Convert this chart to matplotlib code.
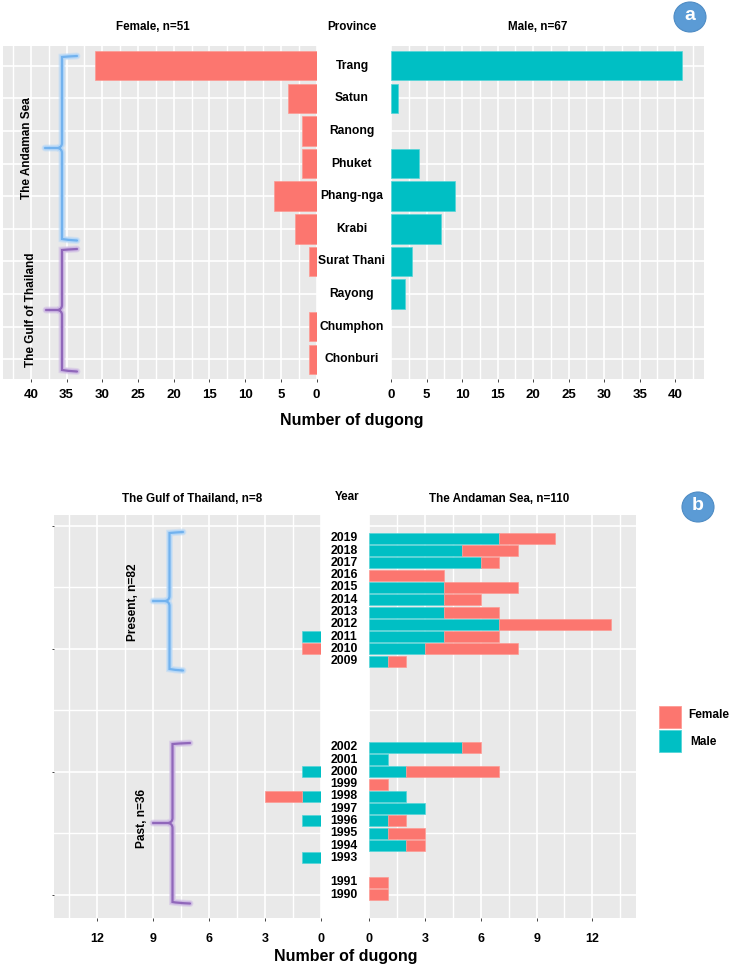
import matplotlib
matplotlib.use("Agg")
import matplotlib.pyplot as plt
from matplotlib.patches import Ellipse, PathPatch, Rectangle
from matplotlib.path import Path
from matplotlib.ticker import MultipleLocator

plt.rcParams['font.family'] = ['Liberation Sans', 'DejaVu Sans']
plt.rcParams['font.weight'] = 'bold'

W = 732
H = 968
RED = '#FC766F'
TEAL = '#00BFC4'
RED_EDGE = '#FD9A94'
TEAL_EDGE = '#55D5D8'
PANEL = '#E9E9E9'
BLUE_IN = '#72B2EE'
BLUE_OUT = '#B5D7F7'
PURPLE_IN = '#9067BA'
PURPLE_OUT = '#CDB9E3'

# panel a
provinces = ['Trang', 'Satun', 'Ranong', 'Phuket', 'Phang-nga', 'Krabi',
             'Surat Thani', 'Rayong', 'Chumphon', 'Chonburi']
female_province = [31, 4, 2, 2, 6, 3, 1, 0, 1, 1]
male_province = [41, 1, 0, 4, 9, 7, 3, 2, 0, 0]

# panel b
years = [2019, 2018, 2017, 2016, 2015, 2014, 2013, 2012, 2011, 2010, 2009,
         2002, 2001, 2000, 1999, 1998, 1997, 1996, 1995, 1994, 1993, 1991, 1990]
andaman_male = [7, 5, 6, 0, 4, 4, 4, 7, 4, 3, 1,
                5, 1, 2, 0, 2, 3, 1, 1, 2, 0, 0, 0]
andaman_female = [3, 3, 1, 4, 4, 2, 3, 6, 3, 5, 1,
                  1, 0, 5, 1, 0, 0, 1, 2, 1, 0, 1, 1]
gulf_male = [0, 0, 0, 0, 0, 0, 0, 0, 1, 0, 0,
             0, 0, 1, 0, 1, 0, 1, 0, 0, 1, 0, 0]
gulf_female = [0, 0, 0, 0, 0, 0, 0, 0, 0, 1, 0,
               0, 0, 0, 0, 2, 0, 0, 0, 0, 0, 0, 0]

fig = plt.figure(figsize=(W / 100, H / 100), dpi=100)


def make_axes(x0, x1, y0, y1):
    # pixel box, y measured from the top of the picture
    ax = fig.add_axes([x0 / W, 1 - y1 / H, (x1 - x0) / W, (y1 - y0) / H])
    ax.set_facecolor(PANEL)
    for s in ax.spines.values():
        s.set_visible(False)
    ax.set_axisbelow(True)
    ax.grid(which='major', color='white', lw=1.2)
    ax.grid(which='minor', color='white', lw=1.0)
    ax.tick_params(which='minor', length=0)
    ax.tick_params(axis='x', which='major', length=2.5, width=0.7, color='#444444',
                   labelsize=9.5, pad=5)
    return ax


def bars(ax, pos, vals, color, edge, left=None):
    # zero counts are left out, their edge would show as a thin line
    if left is None:
        left = [0] * len(vals)
    for p, v, l in zip(pos, vals, left):
        if v > 0:
            ax.barh(p, v, left=l, height=0.9, color=color, edgecolor=edge, lw=0.5)


def label(x, y, s, **kw):
    kw.setdefault('ha', 'center')
    kw.setdefault('va', 'center')
    fig.text(x / W, 1 - y / H, s, **kw)


# overlay for the hand drawn braces and badges, in picture pixels
top = fig.add_axes([0, 0, 1, 1], zorder=5)
top.set_xlim(0, W)
top.set_ylim(H, 0)
top.axis('off')


def brace(x, y0, y1, ymid, xtip, xend, inner, outer):
    c = 5
    verts = [(xend, y0), (x + c, y0 + 0.5), (x, y0 + 1), (x, y0 + c),
             (x, ymid - c), (x, ymid - 1), (x - 4, ymid), (xtip, ymid),
             (x - 4, ymid), (x, ymid + 1), (x, ymid + c),
             (x, y1 - c), (x, y1 - 1), (x + c, y1), (xend, y1 + 0.5)]
    codes = [Path.MOVETO, Path.CURVE3, Path.CURVE3, Path.LINETO,
             Path.LINETO, Path.CURVE3, Path.CURVE3, Path.LINETO,
             Path.MOVETO, Path.CURVE3, Path.CURVE3, Path.LINETO,
             Path.LINETO, Path.CURVE3, Path.CURVE3]
    p = Path(verts, codes)
    top.add_patch(PathPatch(p, fc='none', ec=outer, lw=5, alpha=0.45, capstyle='round'))
    top.add_patch(PathPatch(p, fc='none', ec=outer, lw=3.4, capstyle='round'))
    top.add_patch(PathPatch(p, fc='none', ec=inner, lw=1.6, capstyle='round'))


def badge(x, y, s):
    top.add_patch(Ellipse((x, y), 32, 30, fc='#5B9BD5', ec='#4F8CC4', lw=0.8))
    top.text(x, y - 1, s, color='white', fontsize=14, ha='center', va='center')


# panel a
y_a = list(range(len(provinces)))
ax1 = make_axes(3, 316.5, 46, 379)
bars(ax1, y_a, female_province, RED, RED_EDGE)
ax1.set_xlim(43.9, 0)
ax2 = make_axes(391, 704, 46, 379)
bars(ax2, y_a, male_province, TEAL, TEAL_EDGE)
ax2.set_xlim(0, 44.05)
for ax in (ax1, ax2):
    ax.set_ylim(9.6, -0.6)
    ax.set_yticks(y_a)
    ax.set_yticklabels([])
    ax.tick_params(axis='y', length=0)
    ax.xaxis.set_major_locator(MultipleLocator(5))
    ax.xaxis.set_minor_locator(MultipleLocator(2.5))
for name, y in zip(provinces, y_a):
    ax1.annotate(name, (0, y), xycoords=('axes fraction', 'data'), xytext=(352 / W, 0),
                 textcoords=('figure fraction', 'offset points'),
                 ha='center', va='center', fontsize=8.7)

label(153, 26.5, 'Female, n=51', fontsize=8.4)
label(352, 26.5, 'Province', fontsize=8.4)
label(538, 26.5, 'Male, n=67', fontsize=8.4)
label(352, 420, 'Number of dugong', fontsize=11.5)
label(27, 148, 'The Andaman Sea', rotation=90, fontsize=8.5)
label(31, 310, 'The Gulf of Thailand', rotation=90, fontsize=8.5)
brace(62, 56, 240, 148, 45, 77, BLUE_IN, BLUE_OUT)
brace(62, 249, 371, 310, 46, 77, PURPLE_IN, PURPLE_OUT)
badge(690, 17, 'a')

# panel b
ax3 = make_axes(54, 321, 515, 918)
bars(ax3, years, gulf_male, TEAL, TEAL_EDGE)
bars(ax3, years, gulf_female, RED, RED_EDGE, left=gulf_male)
ax3.set_xlim(14.3, 0)
ax4 = make_axes(369.3, 636, 515, 918)
bars(ax4, years, andaman_male, TEAL, TEAL_EDGE)
bars(ax4, years, andaman_female, RED, RED_EDGE, left=andaman_male)
ax4.set_xlim(0, 14.35)
for ax in (ax3, ax4):
    ax.set_ylim(1988.1, 2020.9)
    ax.yaxis.set_major_locator(MultipleLocator(10))
    ax.yaxis.set_minor_locator(MultipleLocator(5))
    ax.set_yticklabels([])
    ax.xaxis.set_major_locator(MultipleLocator(3))
    ax.xaxis.set_minor_locator(MultipleLocator(1.5))
    ax.tick_params(axis='x', labelsize=9, pad=8.5)
ax3.tick_params(axis='y', which='major', length=1.2, width=0.7, color='#444444')
ax4.tick_params(axis='y', length=0)
for yr in years:
    ax3.annotate(str(yr), (0, yr), xycoords=('axes fraction', 'data'), xytext=(344 / W, 0),
                 textcoords=('figure fraction', 'offset points'),
                 ha='center', va='center', fontsize=8.8)

label(192, 498.5, 'The Gulf of Thailand, n=8', fontsize=8.4)
label(347, 497.5, 'Year', fontsize=8.4)
label(499, 498.5, 'The Andaman Sea, n=110', fontsize=8.4)
label(346, 957, 'Number of dugong', fontsize=11.5)
label(133, 602, 'Present, n=82', rotation=90, fontsize=8.6)
label(142, 818, 'Past, n=36', rotation=90, fontsize=8.6)
brace(169.5, 532, 670, 601, 153, 183, BLUE_IN, BLUE_OUT)
brace(172.5, 743, 903, 823, 153, 190, PURPLE_IN, PURPLE_OUT)
badge(698, 507, 'b')

# legend
top.add_patch(Rectangle((659, 705.5), 22, 22, fc=RED, ec=RED_EDGE, lw=0.6))
top.add_patch(Rectangle((659, 729.5), 22, 22, fc=TEAL, ec=TEAL_EDGE, lw=0.6))
label(709, 715, 'Female', fontsize=8.6)
label(703, 742, 'Male', fontsize=8.6)

fig.savefig('out.png', dpi=100)
